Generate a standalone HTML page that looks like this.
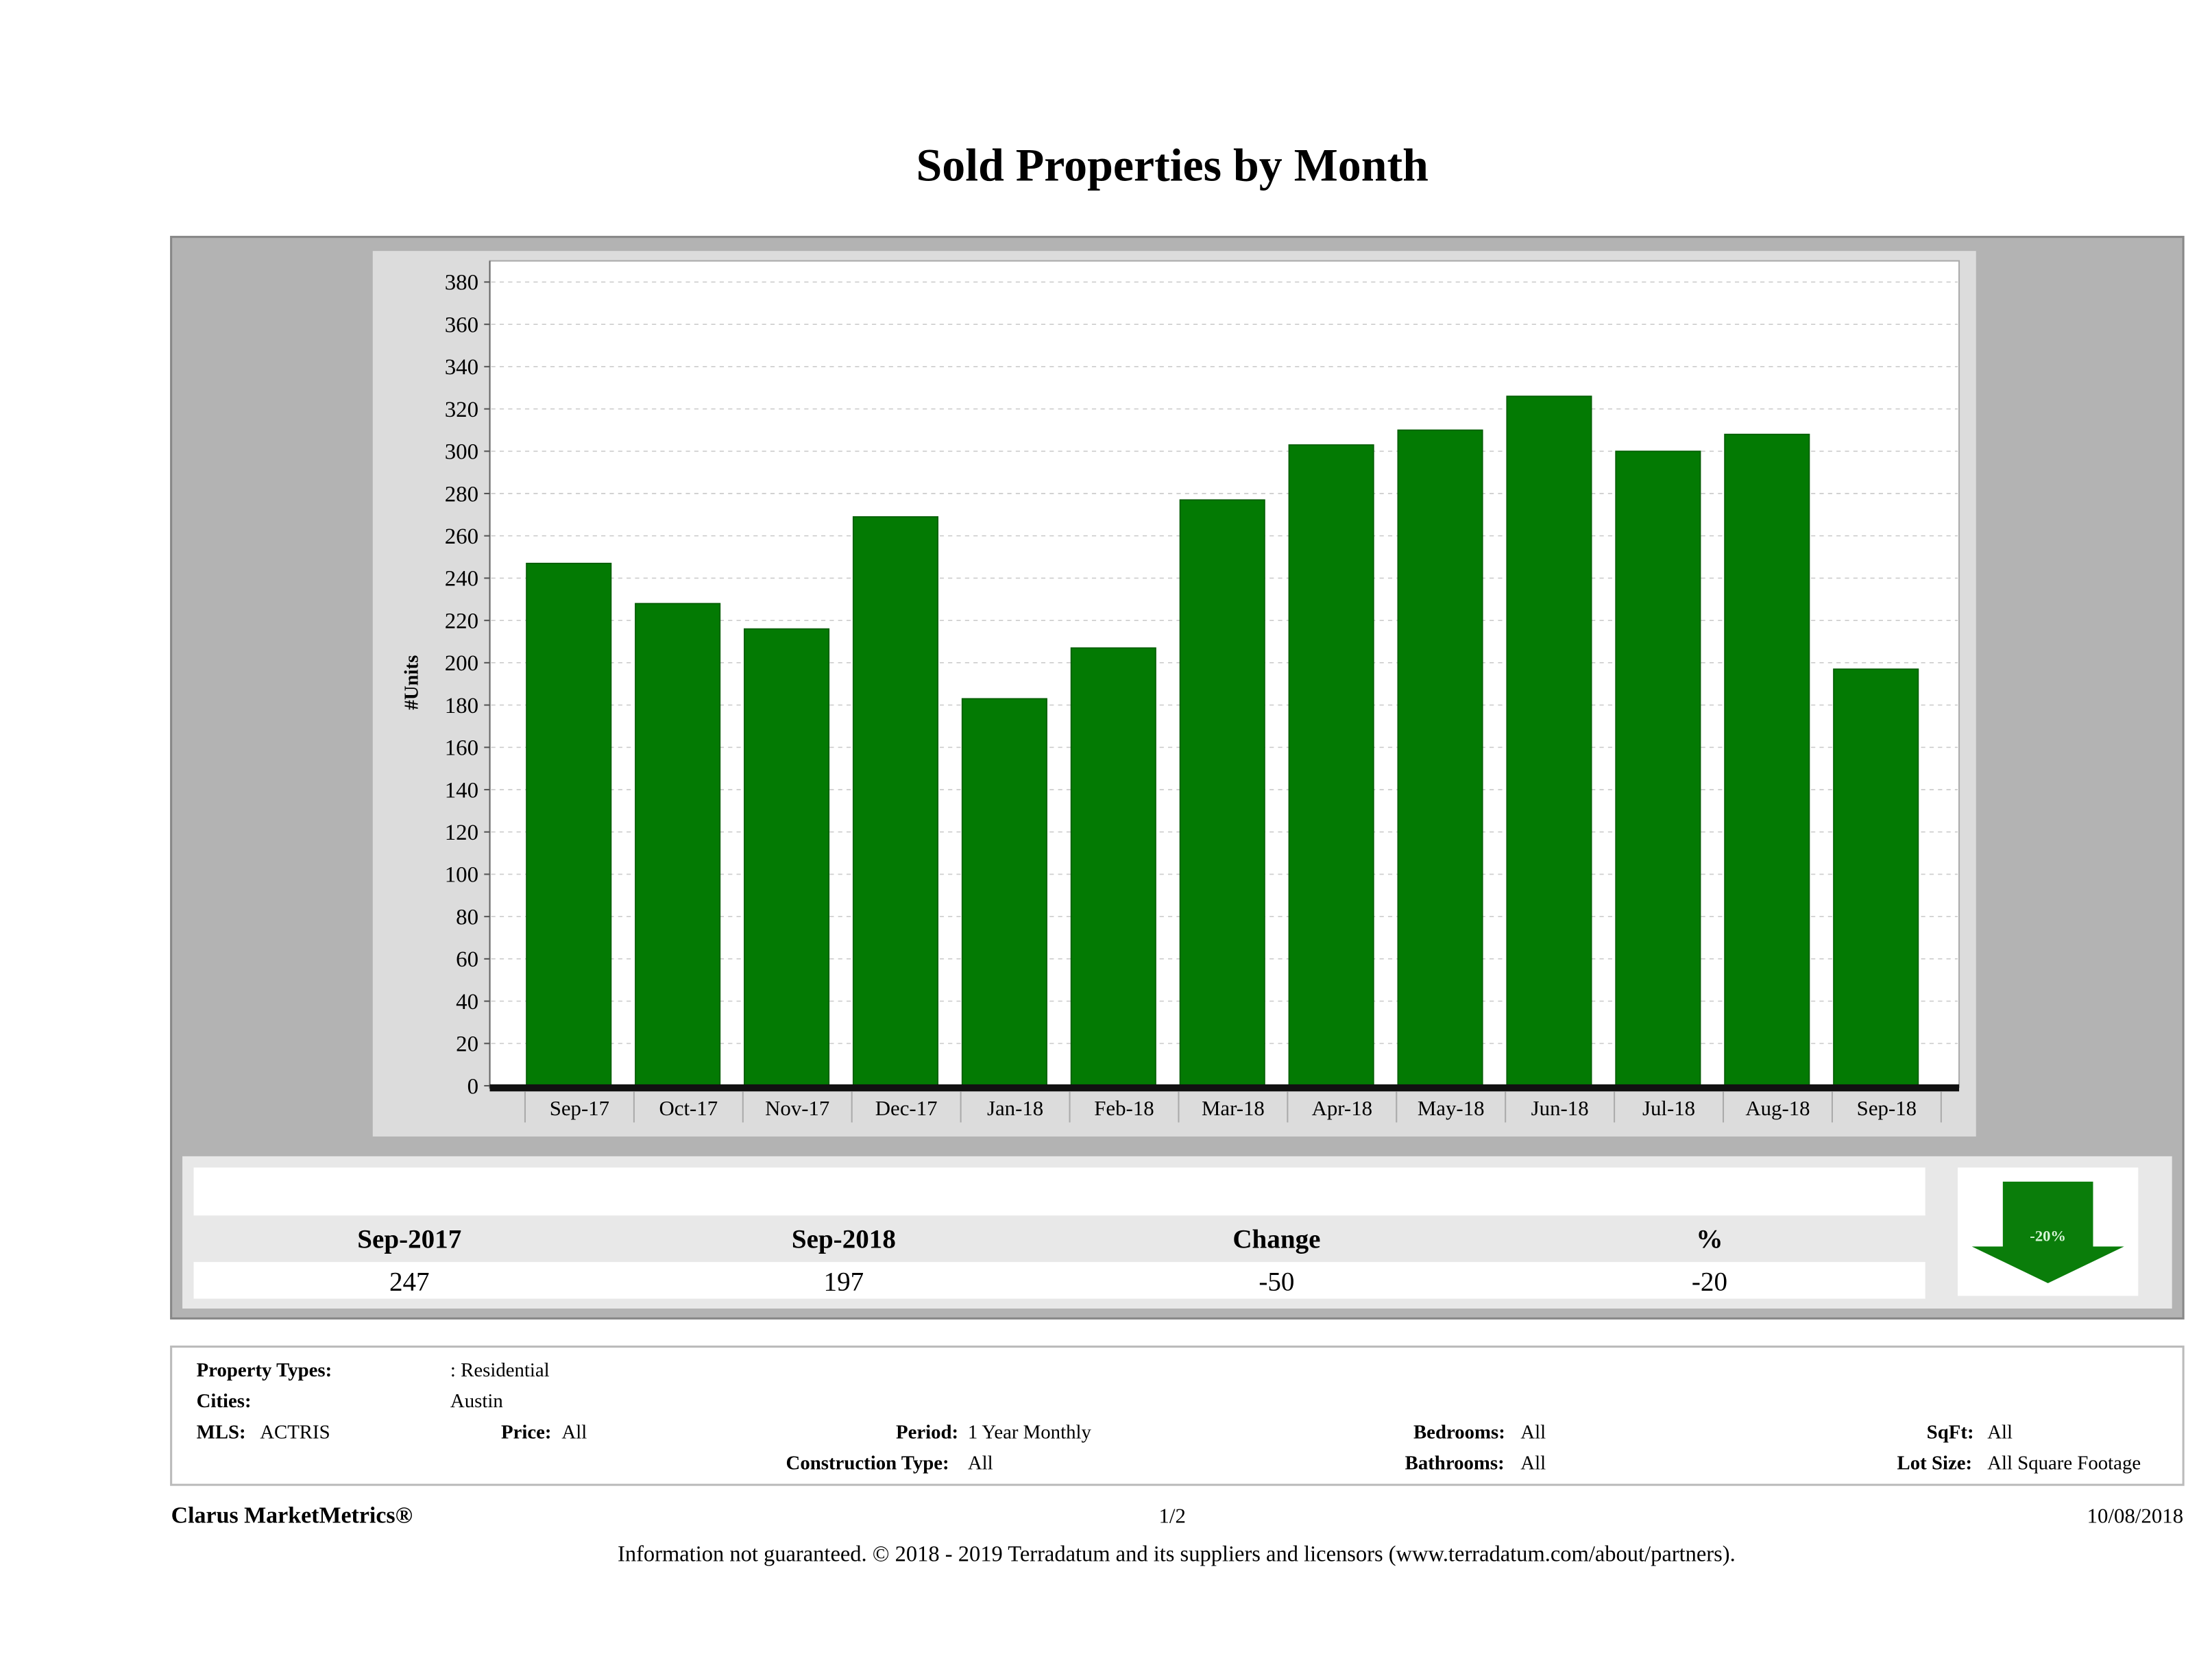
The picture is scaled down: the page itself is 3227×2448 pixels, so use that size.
<!DOCTYPE html>
<html><head><meta charset="utf-8"><style>
html,body{margin:0;padding:0;background:#fff;}
svg{display:block;}
text{font-family:"Liberation Serif",serif;fill:#000;}
</style></head><body>
<svg id="page" width="3227" height="2448" viewBox="0 0 1568 1190" xmlns="http://www.w3.org/2000/svg">
<rect x="0" y="0" width="1568" height="1190" fill="#fff"/>
<text x="831" y="128" font-size="33" font-weight="bold" text-anchor="middle">Sold Properties by Month</text>

<rect x="121" y="168" width="1427" height="767" fill="#b3b3b3" stroke="#888" stroke-width="1.5"/>
<rect x="264" y="178" width="1137" height="628" fill="#dcdcdc"/>
<rect x="347" y="185" width="1042" height="586" fill="#fff" stroke="#aaa" stroke-width="1"/>
<line x1="347" y1="185" x2="347" y2="772" stroke="#666" stroke-width="1"/>
<g id="grid"></g>
<g id="bars"></g>
<g id="yticks"></g>
<g id="xticks"></g>
<text transform="translate(296,484) rotate(-90)" font-size="14" font-weight="bold" text-anchor="middle">#Units</text>

<rect x="129" y="820" width="1411" height="108" fill="#e8e8e8"/>
<rect x="137" y="828" width="1228" height="34" fill="#fff"/>
<rect x="137" y="895" width="1228" height="26" fill="#fff"/>
<g font-size="19" font-weight="bold" text-anchor="middle">
<text x="290" y="885">Sep-2017</text>
<text x="598" y="885">Sep-2018</text>
<text x="905" y="885">Change</text>
<text x="1212" y="885">%</text>
</g>
<g font-size="19" text-anchor="middle">
<text x="290" y="915">247</text>
<text x="598" y="915">197</text>
<text x="905" y="915">-50</text>
<text x="1212" y="915">-20</text>
</g>
<rect x="1388" y="828" width="128" height="91" fill="#fff"/>
<polygon points="1420,838 1484,838 1484,884 1506,884 1452,910 1398,884 1420,884" fill="#0a7d0a"/>
<text x="1452" y="880" font-size="11" font-weight="bold" text-anchor="middle" style="fill:#d8f5d8">-20%</text>

<rect x="121" y="955" width="1427" height="98" fill="#fff" stroke="#bbb" stroke-width="1.5"/>
<g font-size="14">
<text x="139" y="976" font-weight="bold">Property Types:</text><text x="319" y="976">: Residential</text>
<text x="139" y="998" font-weight="bold">Cities:</text><text x="319" y="998">Austin</text>
<text x="139" y="1020" font-weight="bold">MLS:</text><text x="184" y="1020">ACTRIS</text>
<text x="355" y="1020" font-weight="bold">Price:</text><text x="398" y="1020">All</text>
<text x="635" y="1020" font-weight="bold">Period:</text><text x="686" y="1020">1 Year Monthly</text>
<text x="557" y="1042" font-weight="bold">Construction Type:</text><text x="686" y="1042">All</text>
<text x="1002" y="1020" font-weight="bold">Bedrooms:</text><text x="1078" y="1020">All</text>
<text x="996" y="1042" font-weight="bold">Bathrooms:</text><text x="1078" y="1042">All</text>
<text x="1366" y="1020" font-weight="bold">SqFt:</text><text x="1409" y="1020">All</text>
<text x="1345" y="1042" font-weight="bold">Lot Size:</text><text x="1409" y="1042">All Square Footage</text>
</g>
<text x="121" y="1080" font-size="16.5" font-weight="bold">Clarus MarketMetrics®</text>
<text x="831" y="1080" font-size="15" text-anchor="middle">1/2</text>
<text x="1548" y="1080" font-size="15" text-anchor="end">10/08/2018</text>
<text x="834" y="1107" font-size="15.8" text-anchor="middle">Information not guaranteed. © 2018 - 2019 Terradatum and its suppliers and licensors (www.terradatum.com/about/partners).</text>
</svg>
<script>
const categories = ["Sep-17","Oct-17","Nov-17","Dec-17","Jan-18","Feb-18","Mar-18","Apr-18","May-18","Jun-18","Jul-18","Aug-18","Sep-18"];
const soldUnits = [247,228,216,269,183,207,277,303,310,326,300,308,197];
const yTicks = [0,20,40,60,80,100,120,140,160,180,200,220,240,260,280,300,320,340,360,380];

const NS = "http://www.w3.org/2000/svg";
const y0 = 770, y380 = 200, yMax = 380;
function yScale(v){ return y0 - (v / yMax) * (y0 - y380); }
const xStart = 364, step = 77.25;
function xCenter(i){ return xStart + 39 + i * step; }
const barW = 60;
function mk(tag, attrs, parent){ const e = document.createElementNS(NS, tag); for (const k in attrs) e.setAttribute(k, attrs[k]); parent.appendChild(e); return e; }

const grid = document.getElementById('grid'), yt = document.getElementById('yticks'), bars = document.getElementById('bars'), xt = document.getElementById('xticks');
yTicks.forEach(function(t){
  const y = yScale(t);
  if (t > 0) {
    const g = mk('line', {x1:348, x2:1388, y1:y, y2:y, stroke:'#ccc', 'stroke-dasharray':'3,3', 'stroke-width':0.8}, grid);
    
    
  }
  mk('line', {x1:343, x2:347, y1:y, y2:y, stroke:'#555', 'stroke-width':1}, yt);
  const tx = mk('text', {x:339, y:y+5.5, 'font-size':16, 'text-anchor':'end'}, yt);
  tx.textContent = t;
  
  
});
soldUnits.forEach(function(v, i){
  const cx = xCenter(i);
  const r = mk('rect', {x:cx - barW/2, y:yScale(v), width:barW, height:y0 - yScale(v), fill:'#037a03', stroke:'#025c02', 'stroke-width':0.8}, bars);
  
  
});
mk('rect', {x:347, y:769, width:1042, height:5, fill:'#111'}, xt);
categories.forEach(function(c, i){
  const cx = xCenter(i);
  const tl = cx - barW/2 - 1;
  mk('line', {x1:tl, x2:tl, y1:774, y2:796, stroke:'#aaa', 'stroke-width':1}, xt);
  if (i === categories.length - 1) mk('line', {x1:tl + step, x2:tl + step, y1:774, y2:796, stroke:'#aaa', 'stroke-width':1}, xt);
  const tx = mk('text', {x:tl + step/2, y:791, 'font-size':15, 'text-anchor':'middle'}, xt);
  tx.textContent = c;
  
  
});
</script>
</body></html>
